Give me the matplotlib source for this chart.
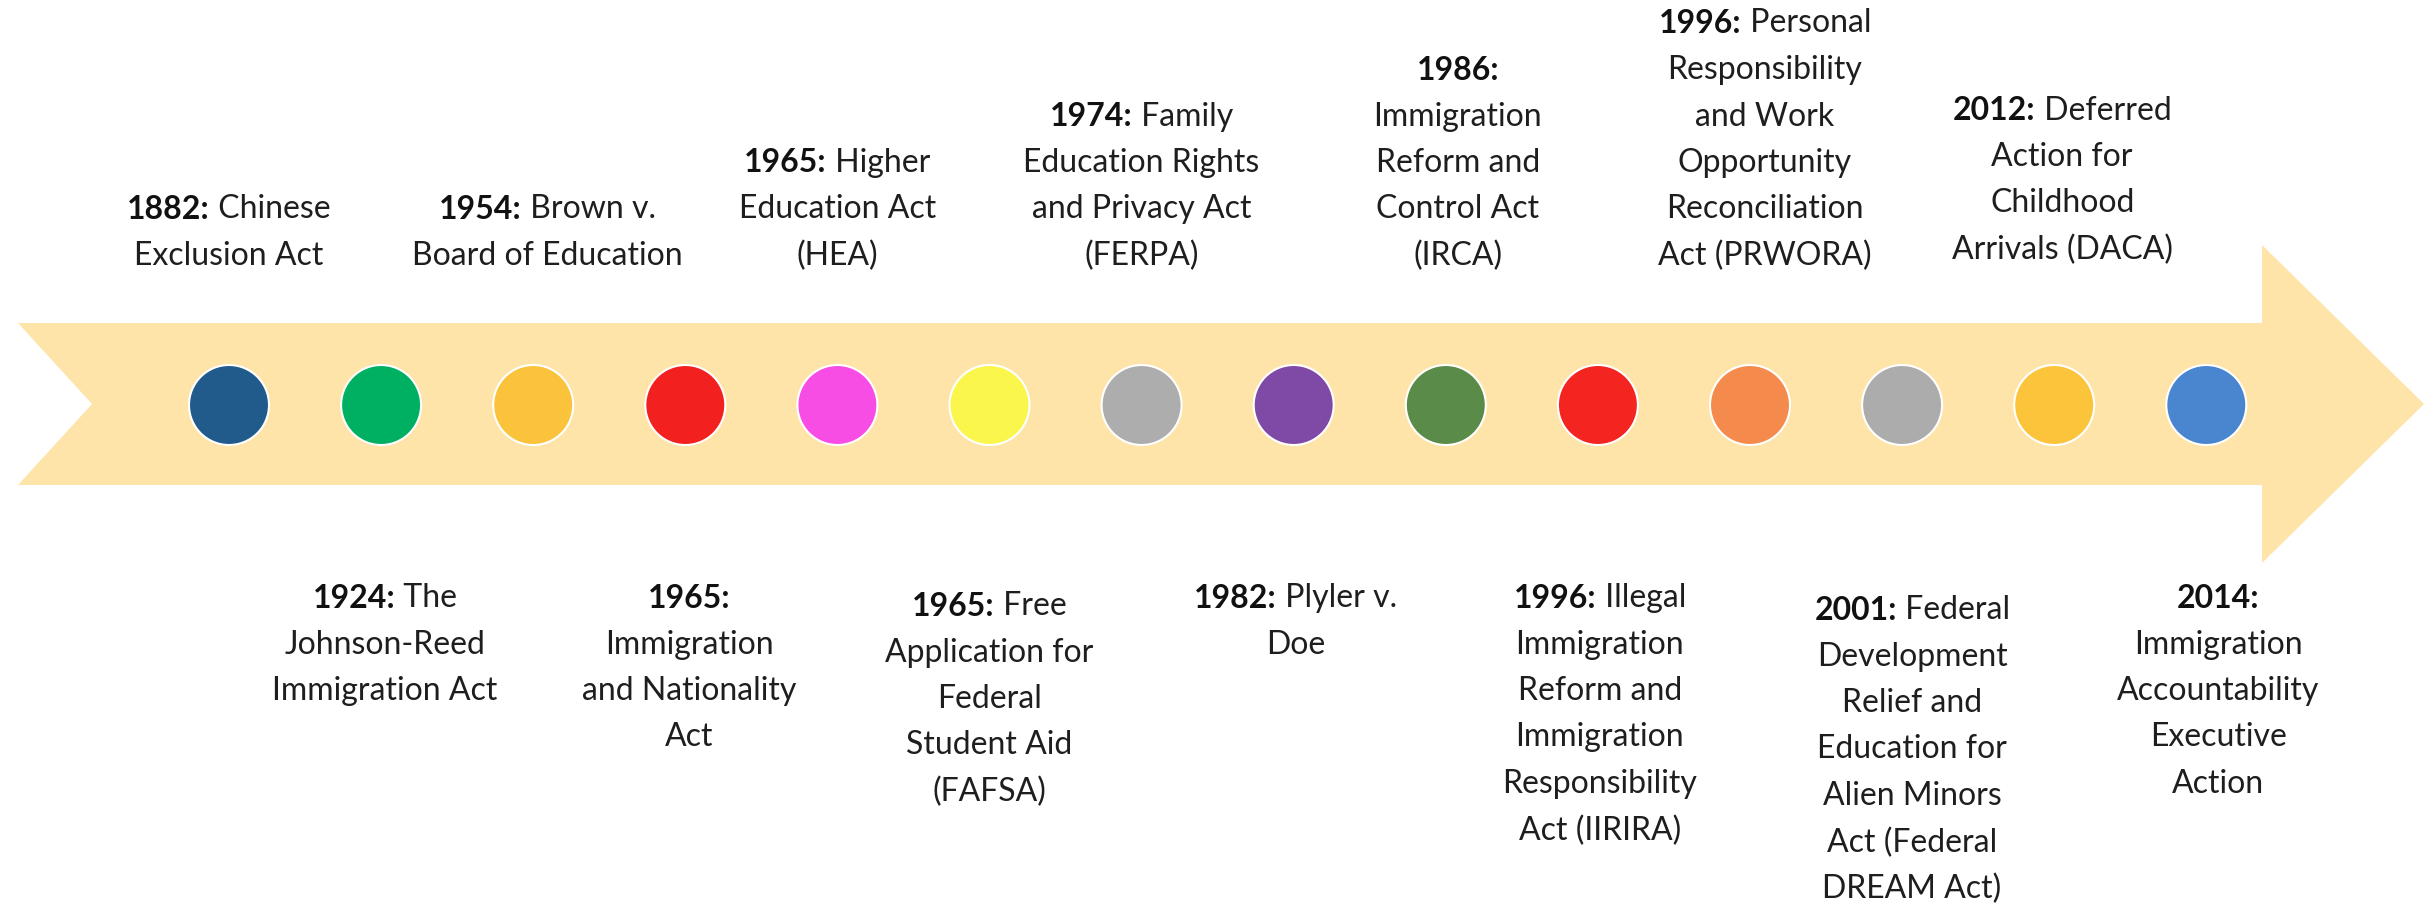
import matplotlib
matplotlib.use('Agg')
import matplotlib.pyplot as plt
from matplotlib.patches import Polygon, Circle

W, H = 2433, 908

# events in order along the arrow (left to right)
years = ['1882', '1924', '1954', '1965', '1965', '1965', '1974',
         '1982', '1986', '1996', '1996', '2001', '2012', '2014']
first_lines = ['Chinese', 'The', 'Brown v.', '', 'Higher', 'Free', 'Family',
               'Plyler v.', '', 'Illegal', 'Personal', 'Federal', 'Deferred', '']
rest_lines = [
    ['Exclusion Act'],
    ['Johnson-Reed', 'Immigration Act'],
    ['Board of Education'],
    ['Immigration', 'and Nationality', 'Act'],
    ['Education Act', '(HEA)'],
    ['Application for', 'Federal', 'Student Aid', '(FAFSA)'],
    ['Education Rights', 'and Privacy Act', '(FERPA)'],
    ['Doe'],
    ['Immigration', 'Reform and', 'Control Act', '(IRCA)'],
    ['Immigration', 'Reform and', 'Immigration', 'Responsibility', 'Act (IIRIRA)'],
    ['Responsibility', 'and Work', 'Opportunity', 'Reconciliation', 'Act (PRWORA)'],
    ['Development', 'Relief and', 'Education for', 'Alien Minors',
     'Act (Federal', 'DREAM Act)'],
    ['Action for', 'Childhood', 'Arrivals (DACA)'],
    ['Immigration', 'Accountability', 'Executive', 'Action'],
]
sides = ['top', 'bottom'] * 7
dot_colors = ['#215b8b', '#00b062', '#fbc23c', '#f2201e', '#f74de4', '#fbf64c',
              '#adadad', '#7f4aa6', '#5b8b49', '#f42421', '#f48b4c', '#acacac',
              '#fbc43b', '#4a85cf']

arrow_color = '#fee4a8'
font = 'Lato'
fs = 23
line_h = 46.5

fig = plt.figure(figsize=(W / 100, H / 100), dpi=100)
ax = fig.add_axes([0, 0, 1, 1])
ax.set_xlim(0, W)
ax.set_ylim(H, 0)
ax.axis('off')

# arrow band with notched tail
arrow_pts = [(18, 323), (2262, 323), (2262, 245), (2424, 404), (2262, 563),
             (2262, 485), (18, 485), (92, 404)]
ax.add_patch(Polygon(arrow_pts, closed=True, facecolor=arrow_color,
                     edgecolor='none', zorder=1))

x0, step, yc = 229, 152.1, 405
xs = [x0 + i * step for i in range(len(years))]
for x, c in zip(xs, dot_colors):
    ax.add_patch(Circle((x, yc), 40, facecolor=c, edgecolor='white',
                        linewidth=1.5, zorder=2))

fig.canvas.draw()
renderer = fig.canvas.get_renderer()

top_last = 256
bottom_first = 598
dx = [0, 4, 14, 4, 0, 0, 0, 2, 12, 2, 15, 10, 8, 12]
dy = [0, 0, 0, 0, 0, 8, 0, 0, 0, 0, 0, 12, -6, 0]

for i, x in enumerate(xs):
    x = x + dx[i]
    n = 1 + len(rest_lines[i])
    if sides[i] == 'top':
        y_first = top_last - (n - 1) * line_h + dy[i]
    else:
        y_first = bottom_first + dy[i]
    # first line: bold year + regular text, centred together
    t_bold = ax.text(0, y_first, years[i] + ':', fontfamily=font, fontsize=fs,
                     fontweight='bold', color='#111111', ha='left', va='center')
    t_reg = None
    if first_lines[i]:
        t_reg = ax.text(0, y_first, ' ' + first_lines[i], fontfamily=font,
                        fontsize=fs, color='#1e1e1e', ha='left', va='center')
    wb = t_bold.get_window_extent(renderer).width
    wr = t_reg.get_window_extent(renderer).width if t_reg else 0
    left = x - (wb + wr) / 2
    t_bold.set_x(left)
    if t_reg:
        t_reg.set_x(left + wb)
    for k, line in enumerate(rest_lines[i]):
        ax.text(x, y_first + (k + 1) * line_h, line, fontfamily=font,
                fontsize=fs, color='#1e1e1e', ha='center', va='center')

fig.savefig('out.png', dpi=100, facecolor='white')
